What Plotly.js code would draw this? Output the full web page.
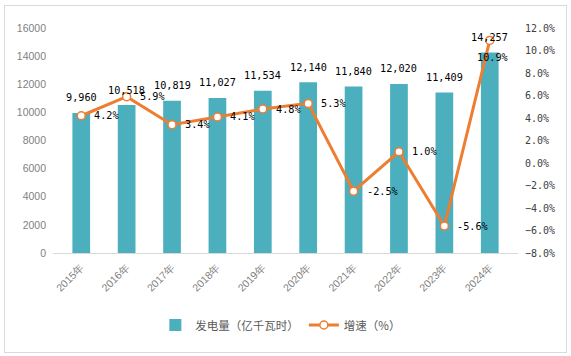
<!DOCTYPE html>
<html>
<head>
<meta charset="utf-8">
<script src="https://cdn.plot.ly/plotly-3.0.1.min.js"></script>
<style>
html,body{margin:0;padding:0;background:#fff;}
#chart{position:absolute;left:0;top:0;width:571px;height:356px;}
#frame{position:absolute;left:4px;top:5px;width:561px;height:346px;border:1px solid #d9d9d9;pointer-events:none;}
</style>
</head>
<body>
<div id="chart"></div>
<div id="frame"></div>
<script>
const years = ["2015年","2016年","2017年","2018年","2019年","2020年","2021年","2022年","2023年","2024年"];
const generation = [9960, 10518, 10819, 11027, 11534, 12140, 11840, 12020, 11409, 14257];
const growth = [4.2, 5.9, 3.4, 4.1, 4.8, 5.3, -2.5, 1.0, -5.6, 10.9];
const barName = "发电量（亿千瓦时）";
const lineName = "增速（%）";

const labelFont = {family: "DejaVu Sans Mono, monospace", size: 10.2, color: "#000000"};

const barTrace = {
  type: "bar", name: barName, x: years, y: generation,
  marker: {color: "#4BAFBE"}, width: 0.39, hoverinfo: "skip"
};
const lineTrace = {
  type: "scatter", mode: "lines+markers", name: lineName,
  x: years, y: growth, yaxis: "y2",
  line: {color: "#ED7D31", width: 3},
  marker: {size: 8, color: "#FFFFFF", line: {color: "#ED7D31", width: 1.5}},
  cliponaxis: false, hoverinfo: "skip"
};

const barLabels = generation.map((v, i) => ({
  x: years[i], y: v, xref: "x", yref: "y",
  text: v.toLocaleString("en-US"), showarrow: false,
  yanchor: "middle", yshift: 15, font: labelFont
}));
const last = growth.length - 1;
const pctLabels = growth.map((v, i) => ({
  x: years[i], y: v, xref: "x", yref: "y2",
  text: v.toFixed(1) + "%", showarrow: false,
  xanchor: i === last ? "center" : "left",
  yanchor: "middle",
  xshift: i === last ? 3 : 11,
  yshift: i === last ? -17 : 0,
  font: labelFont
}));

const layout = {
  width: 571, height: 356,
  margin: {l: 53, r: 53, t: 28, b: 103},
  paper_bgcolor: "#ffffff", plot_bgcolor: "rgba(0,0,0,0)",
  showlegend: true,
  legend: {orientation: "h", x: 0.49, xanchor: "center", y: -0.32, yanchor: "middle",
    font: {family: "Noto Sans CJK SC, sans-serif", size: 11.5, color: "#595959"},
    itemwidth: 30, traceorder: "normal"},
  xaxis: {
    type: "category", tickangle: -45, showgrid: false, zeroline: false,
    showline: true, linecolor: "#d9d9d9", linewidth: 1,
    ticks: "", ticklabelstandoff: 3,
    tickfont: {family: "Liberation Sans, Arial, sans-serif", size: 10.5, color: "#7f7f7f"}
  },
  yaxis: {
    range: [0, 16000], dtick: 2000, tickformat: "d", showgrid: false, zeroline: false,
    showline: false, ticks: "", ticklabelstandoff: 6,
    tickfont: {family: "Liberation Sans, Arial, sans-serif", size: 10.5, color: "#7f7f7f"}
  },
  yaxis2: {
    overlaying: "y", side: "right", range: [-8, 12], dtick: 2,
    tickformat: ".1f", ticksuffix: "%", showgrid: false, zeroline: false,
    showline: false, ticks: "", ticklabelstandoff: 6,
    tickfont: {family: "DejaVu Sans Mono, monospace", size: 10, color: "#404040"}
  },
  annotations: barLabels.concat(pctLabels),
  bargap: 0.6
};

Plotly.newPlot("chart", [barTrace, lineTrace], layout, {staticPlot: true, displayModeBar: false});
</script>
</body>
</html>
